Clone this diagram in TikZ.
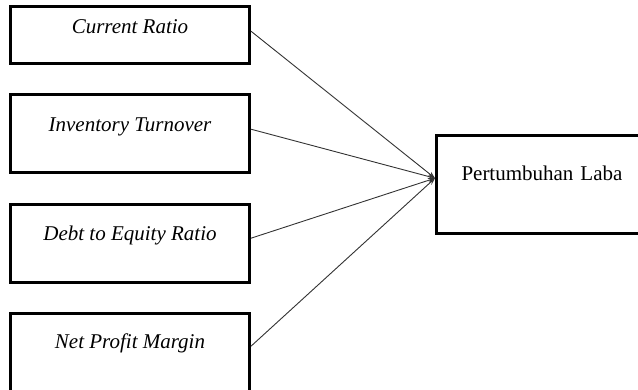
\documentclass[tikz,border=0pt]{standalone}
\usepackage{fontspec}
\setmainfont{Liberation Serif}
\usepackage{tikz}
\usetikzlibrary{arrows.meta}

\begin{document}
\begin{tikzpicture}[x=1pt,y=-1pt,
		box/.style={draw,line width=3pt,inner sep=0pt,anchor=north west,minimum width=239pt,font=\fontsize{21}{25}\selectfont\itshape},
		target/.style={draw,line width=3pt,inner ysep=0pt,inner xsep=25pt,anchor=north west,text width=190pt,align=left,font=\fontsize{21}{25}\selectfont},
		link/.style={line width=0.9pt,draw=black!80,-{Stealth[length=7pt,width=5pt,open]}},
		]
		\useasboundingbox (0,0) rectangle (638,390);

		\node[box,text height=27pt,text depth=30pt](cr) at (9,5) {Current Ratio};
		\node[box,text height=37pt,text depth=41pt](it) at (9,93) {Inventory Turnover};
		\node[box,text height=36pt,text depth=42pt](der) at (9,203) {Debt to Equity Ratio};
		\node[box,text height=35pt,text depth=50pt](npm) at (9,312) {Net Profit Margin};

		\node[target,text height=45pt,text depth=53pt](pl) at (435,134) {Pertumbuhan Laba};

		\draw[link] (cr.mid east) -- (pl.mid west);
		\draw[link] (it.mid east) -- (pl.mid west);
		\draw[link] (der.mid east) -- (pl.mid west);
		\draw[link] (npm.mid east) -- (pl.mid west);
\end{tikzpicture}
\end{document}
